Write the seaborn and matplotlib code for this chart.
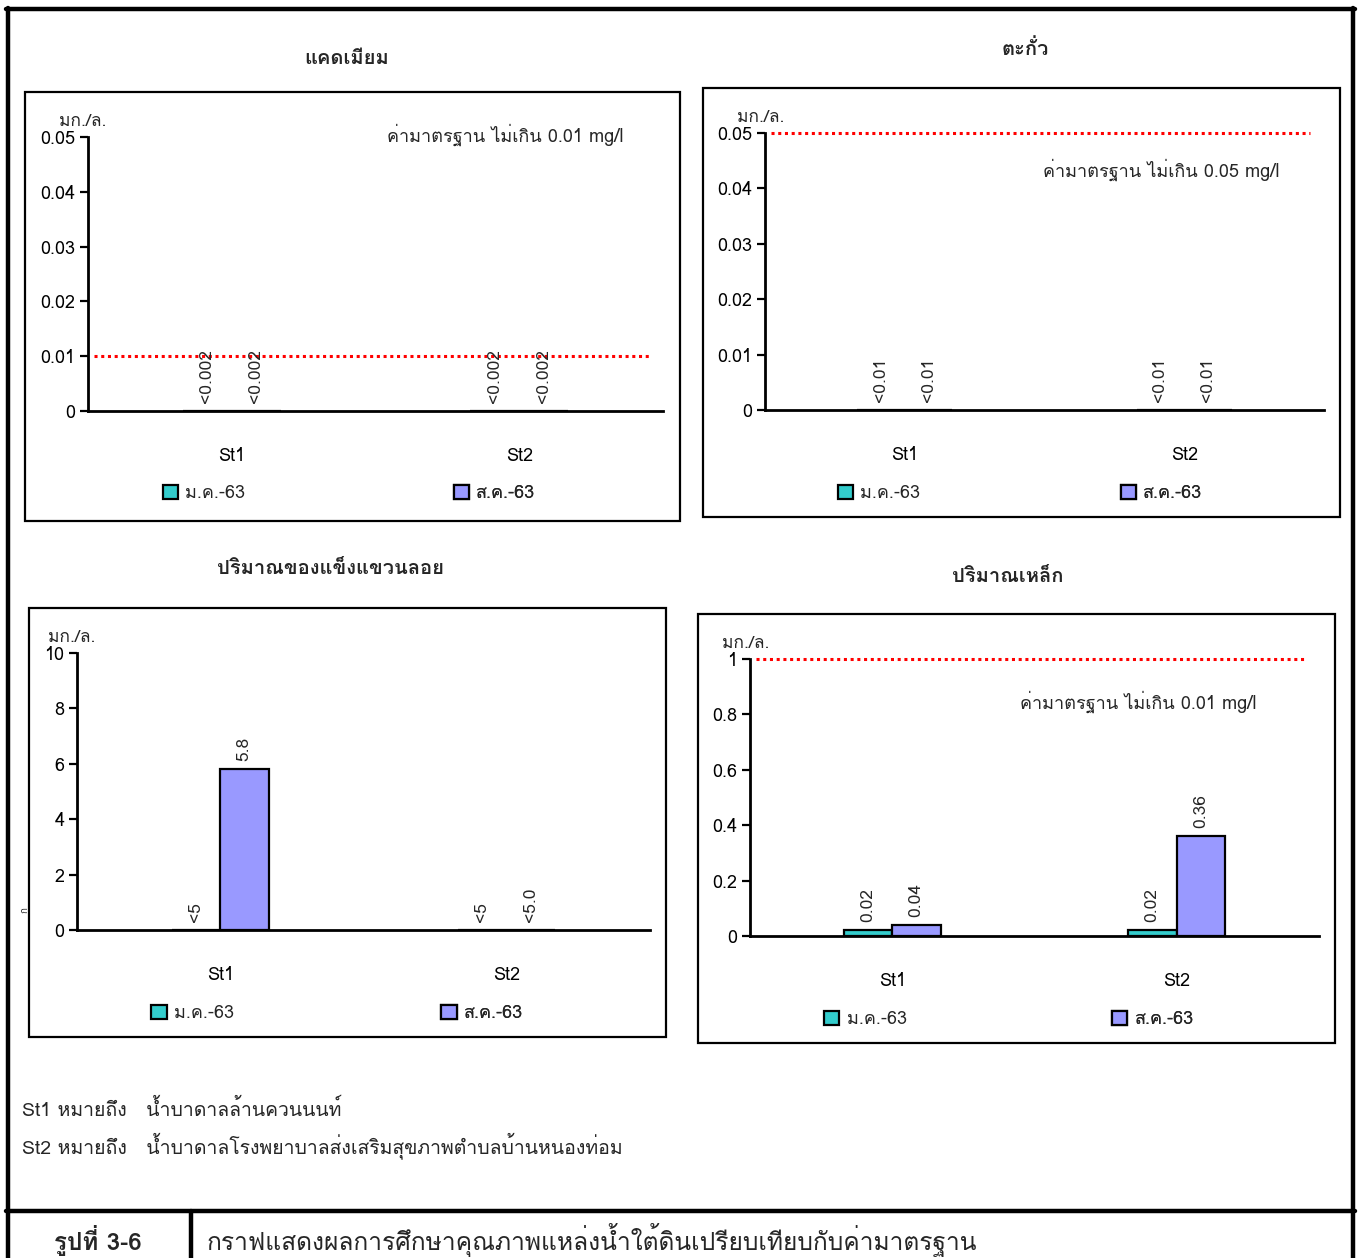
import matplotlib
matplotlib.use("Agg")
import matplotlib.pyplot as plt
import seaborn as sns
import pandas as pd
from matplotlib import font_manager
from matplotlib.ft2font import FT2Font
from matplotlib.patches import Rectangle, Patch
from matplotlib.lines import Line2D
from matplotlib.ticker import FuncFormatter

# ---------------- data ----------------
stations = ["St1", "St2"]
months = ["ม.ค.-63", "ส.ค.-63"]

cd_jan = [0.0, 0.0]
cd_aug = [0.0, 0.0]
cd_jan_lbl = ["<0.002", "<0.002"]
cd_aug_lbl = ["<0.002", "<0.002"]
cd_std = 0.01

pb_jan = [0.0, 0.0]
pb_aug = [0.0, 0.0]
pb_jan_lbl = ["<0.01", "<0.01"]
pb_aug_lbl = ["<0.01", "<0.01"]
pb_std = 0.05

tss_jan = [0.0, 0.0]
tss_aug = [5.8, 0.0]
tss_jan_lbl = ["<5", "<5"]
tss_aug_lbl = ["5.8", "<5.0"]

fe_jan = [0.02, 0.02]
fe_aug = [0.04, 0.36]
fe_jan_lbl = ["0.02", "0.02"]
fe_aug_lbl = ["0.04", "0.36"]
fe_std = 1.0

titles = ["แคดเมียม", "ตะกั่ว", "ปริมาณของแข็งแขวนลอย", "ปริมาณเหล็ก"]
unit = "มก./ล."
std_texts = ["ค่ามาตรฐาน ไม่เกิน 0.01 mg/l", "ค่ามาตรฐาน ไม่เกิน 0.05 mg/l", None,
             "ค่ามาตรฐาน ไม่เกิน 0.01 mg/l"]
note1 = "St1 หมายถึง   น้ำบาดาลล้านควนนนท์"
note2 = "St2 หมายถึง   น้ำบาดาลโรงพยาบาลส่งเสริมสุขภาพตำบลบ้านหนองท่อม"
fig_no = "รูปที่ 3-6"
caption = "กราฟแสดงผลการศึกษาคุณภาพแหล่งน้ำใต้ดินเปรียบเทียบกับค่ามาตรฐาน"

teal = "#33CCCC"
purple = "#9999FF"

# ---------------- fonts ----------------
sns.set_style("white")


def thai_fonts():
    names = []
    for f in font_manager.fontManager.ttflist:
        try:
            cm = FT2Font(f.fname).get_charmap()
        except Exception:
            continue
        if 0x0E01 in cm and 0x0030 in cm and f.name not in names:
            names.append(f.name)
    return names


fams = thai_fonts()
plt.rcParams["font.family"] = fams[:2] + ["DejaVu Sans"]

W, H = 1360, 1258
fig = plt.figure(figsize=(W / 100, H / 100), dpi=100)


def fx(px):
    return px / W


def fy(py):
    return 1 - py / H


# panel boxes and titles
boxes = [(25, 92, 680, 521), (703, 88, 1340, 517), (29, 608, 666, 1037), (698, 614, 1335, 1043)]
title_pos = [(347, 58), (1025, 49), (330, 568), (1008, 577)]
for (x0, y0, x1, y1), (tx, ty), t in zip(boxes, title_pos, titles):
    fig.patches.append(Rectangle((fx(x0), fy(y1)), fx(x1 - x0), (y1 - y0) / H,
                                 transform=fig.transFigure, fill=False,
                                 edgecolor="black", linewidth=1.6))
    fig.text(fx(tx), fy(ty), t, ha="center", va="center", fontsize=14.5, fontweight="bold")

# axes positions (left, bottom-y px, right, top-y px)
ax_px = [(88, 411, 663, 137), (765, 410, 1324, 133), (77, 930, 650, 653), (750, 936, 1319, 659)]
axes = []
for (l, b, r, t) in ax_px:
    axes.append(fig.add_axes([fx(l), fy(b), fx(r - l), (b - t) / H]))


def panel(ax, jan, aug, jan_lbl, aug_lbl, ymax, step, std, std_text, std_xy):
    df = pd.DataFrame({
        "station": stations * 2,
        "month": [months[0]] * 2 + [months[1]] * 2,
        "value": jan + aug,
    })
    labels = {(0, 0): jan_lbl[0], (1, 0): jan_lbl[1], (0, 1): aug_lbl[0], (1, 1): aug_lbl[1]}
    sns.barplot(data=df, x="station", y="value", hue="month", order=stations,
                hue_order=months, palette=[teal, purple], saturation=1, width=0.34, gap=0,
                edgecolor="black", linewidth=1.6, errorbar=None, legend=False, ax=ax)
    for p in ax.patches:
        cx = p.get_x() + p.get_width() / 2
        cat = int(round(cx))
        hi = 0 if cx < cat else 1
        ax.annotate(labels[(cat, hi)], (cx, p.get_height()), xytext=(0, 6),
                    textcoords="offset points", rotation=90, ha="center", va="bottom",
                    fontsize=12.5)
    ax.set_xlim(-0.5, 1.5)
    ax.set_ylim(0, ymax)
    n = int(round(ymax / step))
    ax.set_yticks([i * step for i in range(n + 1)])
    ax.yaxis.set_major_formatter(FuncFormatter(lambda v, pos: f"{round(v, 6):g}"))
    ax.set_xticks([-0.5, 0.5, 1.5])
    ax.set_xticklabels([])
    ax.set_xticks([0, 1], minor=True)
    ax.set_xticklabels(stations, minor=True)
    ax.tick_params(axis="x", which="major", direction="out", length=8, width=1.6, color="black")
    ax.tick_params(axis="x", which="minor", length=0, pad=26, labelsize=13, labelcolor="black")
    ax.tick_params(axis="y", direction="out", length=6, width=1.6, color="black",
                   pad=3, labelsize=13, labelcolor="black", left=True)
    ax.set_xlabel("")
    ax.set_ylabel("")
    for s in ["top", "right"]:
        ax.spines[s].set_visible(False)
    for s in ["left", "bottom"]:
        ax.spines[s].set_color("black")
        ax.spines[s].set_linewidth(2)
    if std is not None:
        ax.axhline(std, xmin=0.01, xmax=0.975, color="red", linestyle=(0, (1, 1.2)),
                   linewidth=2.2, clip_on=False)
    if std_text is not None:
        ax.text(std_xy[0], std_xy[1], std_text, transform=ax.transAxes, ha="left",
                va="center", fontsize=13)
    ax.text(-0.05, 1.025, unit, transform=ax.transAxes, ha="left", va="bottom", fontsize=12.5)
    for i, (m, c) in enumerate(zip(months, [teal, purple])):
        h = Patch(facecolor=c, edgecolor="black", linewidth=1.6)
        leg = ax.legend([h], [m], loc="center left", bbox_to_anchor=([0.13, 0.636][i], -0.3),
                        frameon=False, fontsize=13, handlelength=0.85, handleheight=0.85,
                        handletextpad=0.4, borderpad=0, borderaxespad=0)
        ax.add_artist(leg)


panel(axes[0], cd_jan, cd_aug, cd_jan_lbl, cd_aug_lbl, 0.05, 0.01, cd_std, std_texts[0], (0.52, 1.007))
panel(axes[1], pb_jan, pb_aug, pb_jan_lbl, pb_aug_lbl, 0.05, 0.01, pb_std, std_texts[1], (0.497, 0.866))
panel(axes[2], tss_jan, tss_aug, tss_jan_lbl, tss_aug_lbl, 10, 2, None, None, None)
panel(axes[3], fe_jan, fe_aug, fe_jan_lbl, fe_aug_lbl, 1.0, 0.2, fe_std, std_texts[3], (0.475, 0.845))

# small stray glyph on the left of the TSS panel
fig.text(fx(25), fy(910), "ก", fontsize=7, rotation=90, ha="center", va="center")

# notes and caption
fig.text(fx(22), fy(1109), note1, ha="left", va="center", fontsize=14)
fig.text(fx(22), fy(1146), note2, ha="left", va="center", fontsize=14)
fig.text(fx(98), fy(1240), fig_no, ha="center", va="center", fontsize=17.5, fontweight="bold")
fig.text(fx(207), fy(1240), caption, ha="left", va="center", fontsize=17.7)

# outer frame
lw = 3.2
for xs, ys in [((8, 8), (8, H + 5)), ((1353, 1353), (8, H + 5)), ((6, 1355), (9, 9)),
               ((6, 1355), (1211, 1211)), ((191, 191), (1211, H + 5))]:
    fig.add_artist(Line2D([fx(xs[0]), fx(xs[1])], [fy(ys[0]), fy(ys[1])],
                          transform=fig.transFigure, color="black", linewidth=lw))

fig.savefig("out.png", dpi=100)
